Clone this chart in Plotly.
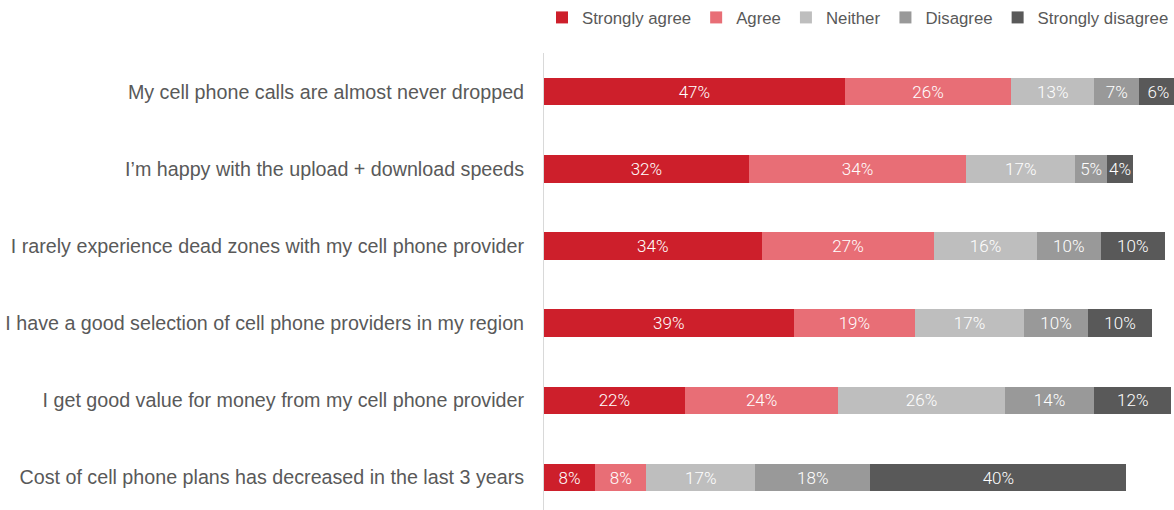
import plotly.graph_objects as go

statements = [
    "My cell phone calls are almost never dropped",
    "I’m happy with the upload + download speeds",
    "I rarely experience dead zones with my cell phone provider",
    "I have a good selection of cell phone providers in my region",
    "I get good value for money from my cell phone provider",
    "Cost of cell phone plans has decreased in the last 3 years",
]

responses = ["Strongly agree", "Agree", "Neither", "Disagree", "Strongly disagree"]

strongly_agree = [47, 32, 34, 39, 22, 8]
agree = [26, 34, 27, 19, 24, 8]
neither = [13, 17, 16, 17, 26, 17]
disagree = [7, 5, 10, 10, 14, 18]
strongly_disagree = [6, 4, 10, 10, 12, 40]

series = [strongly_agree, agree, neither, disagree, strongly_disagree]
colors = ["#CD1F2B", "#E86E76", "#BEBEBE", "#999999", "#595959"]

fig = go.Figure()
for name, vals, col in zip(responses, series, colors):
    fig.add_trace(go.Bar(
        y=statements,
        x=vals,
        name=name,
        orientation="h",
        marker=dict(color=col, line=dict(width=0)),
        width=0.355,
        text=[f"{v}%" for v in vals],
        textposition="inside",
        insidetextanchor="middle",
        textangle=0,
        constraintext="none",
        textfont=dict(color="white", size=17, family="Roboto", weight=300),
        hoverinfo="skip",
    ))

fig.update_layout(
    barmode="stack",
    width=1174,
    height=510,
    margin=dict(l=544, r=0, t=53, b=0),
    paper_bgcolor="white",
    plot_bgcolor="white",
    font=dict(family="Liberation Sans", color="#595959"),
    uniformtext=dict(minsize=17, mode="show"),
    showlegend=True,
    legend=dict(
        orientation="h",
        x=1.0,
        xanchor="right",
        y=1.0,
        yanchor="top",
        yref="container",
        font=dict(size=16.8, color="#595959"),
        itemwidth=30,
        traceorder="normal",
        bgcolor="rgba(0,0,0,0)",
    ),
    xaxis=dict(
        range=[0, 98.44],
        showgrid=False,
        zeroline=False,
        showticklabels=False,
        showline=False,
        fixedrange=True,
    ),
    yaxis=dict(
        categoryorder="array",
        categoryarray=statements,
        range=[5.42, -0.5],
        showgrid=False,
        zeroline=False,
        showline=True,
        linecolor="#D9D9D9",
        linewidth=1,
        ticks="",
        ticklabelstandoff=15,
        tickfont=dict(size=19.7, color="#595959"),
    ),
)

fig.write_html("out.html")
